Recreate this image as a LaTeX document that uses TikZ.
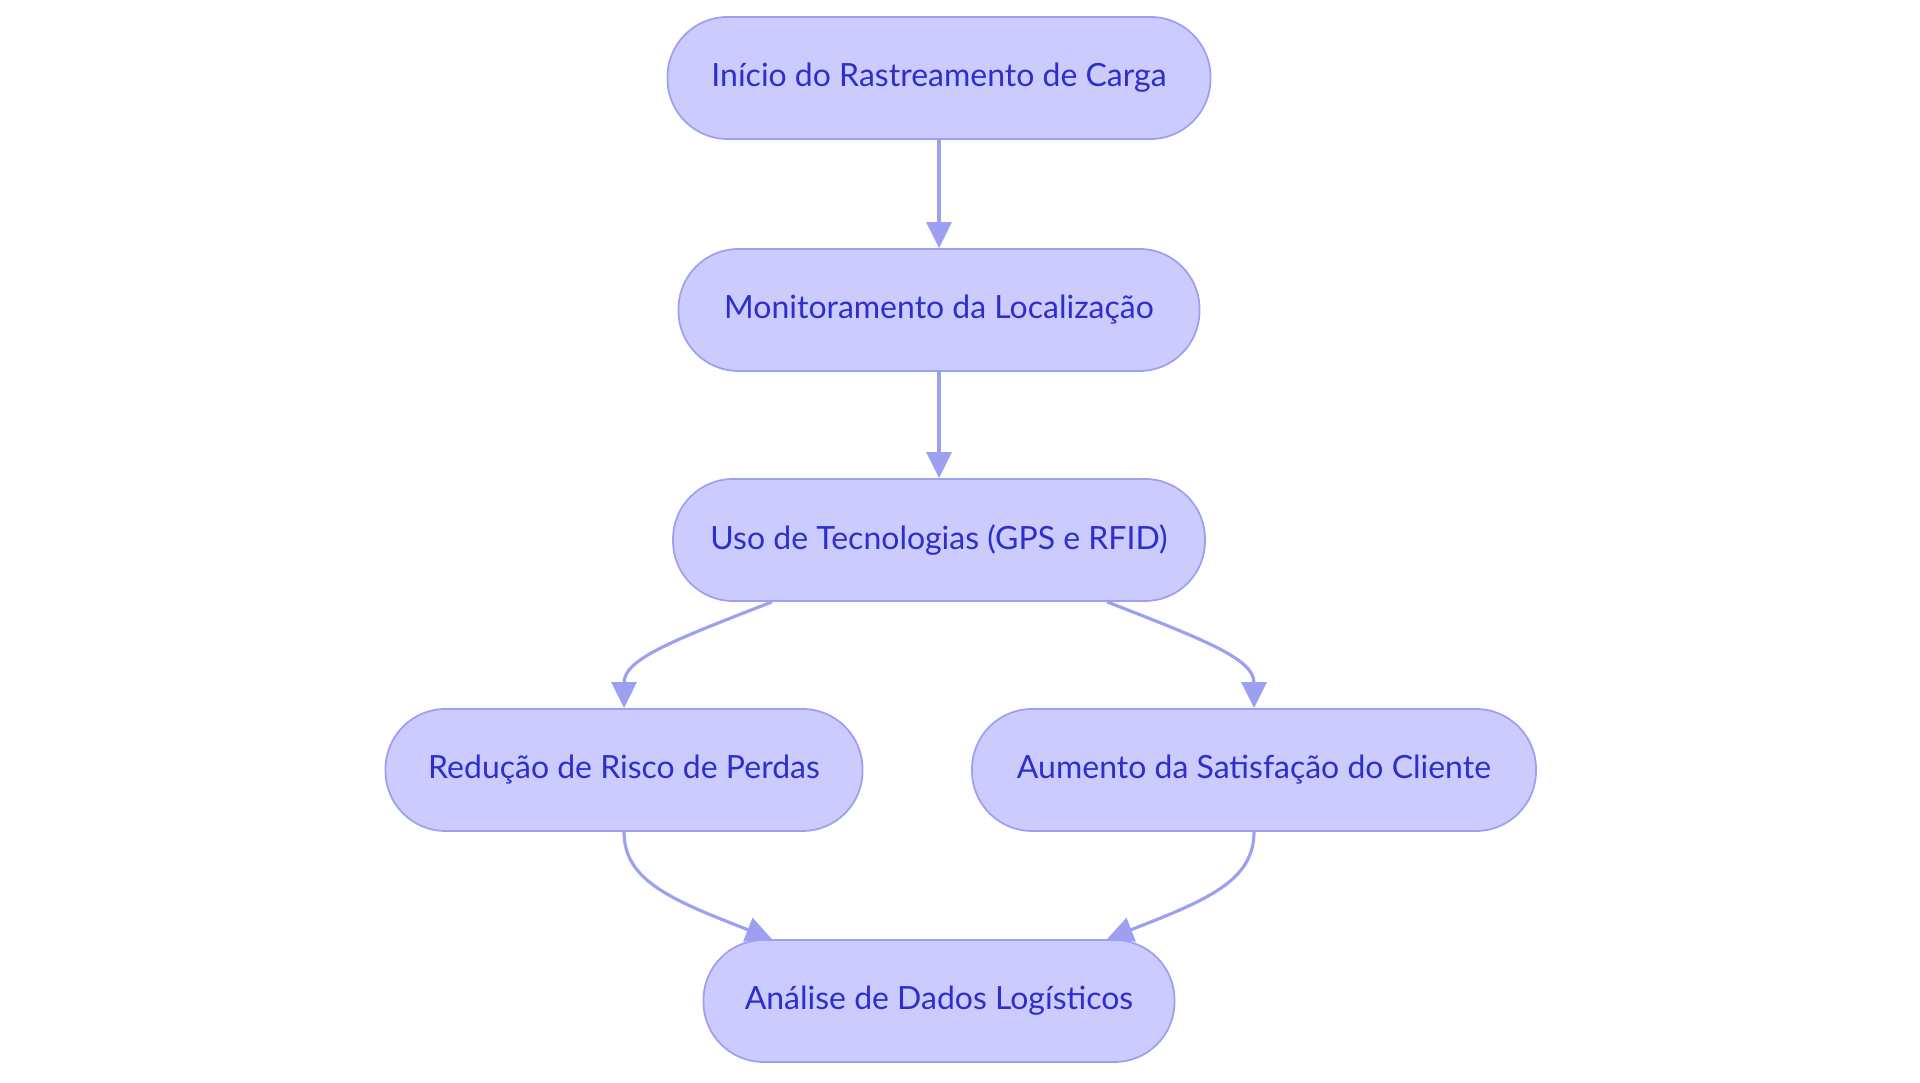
\documentclass[tikz,border=0pt]{standalone}
\usepackage{fontspec}
\setmainfont{Lato}
\usepackage{xcolor}
\usepackage{tikz}
\usetikzlibrary{arrows.meta}

\definecolor{boxfill}{HTML}{CBCBFD}
\definecolor{boxline}{HTML}{9DA0F0}
\definecolor{boxtext}{HTML}{2E2ECC}

\tikzset{
  stepbox/.style={draw=boxline, line width=0.5pt, fill=boxfill, text=boxtext,
    rounded corners=0.6cm, minimum height=1.22cm, inner xsep=0pt,
    font=\fontsize{9.1}{11}\selectfont},
  flow/.style={draw=boxline, line width=0.9pt,
    -{Triangle[length=0.26cm,width=0.25cm]}}
}

\begin{document}
\begin{tikzpicture}
    \useasboundingbox (0,0) rectangle (19.2,10.83);

    \node[stepbox, minimum width=5.43cm] (inicio) at (9.39,10.05) {Início do Rastreamento de Carga};
    \node[stepbox, minimum width=5.21cm] (monit) at (9.39,7.73) {Monitoramento da Localização};
    \node[stepbox, minimum width=5.32cm] (tecno) at (9.39,5.43) {Uso de Tecnologias (GPS e RFID)};
    \node[stepbox, minimum width=4.77cm] (reducao) at (6.24,3.13) {Redução de Risco de Perdas};
    \node[stepbox, minimum width=5.64cm] (aumento) at (12.54,3.13) {Aumento da Satisfação do Cliente};
    \node[stepbox, minimum width=4.71cm] (analise) at (9.39,0.82) {Análise de Dados Logísticos};

    \draw[flow] (inicio) -- (monit);
    \draw[flow] (monit) -- (tecno);
    \draw[flow] ([xshift=-1.67cm]tecno.south) .. controls +(-1.0,-0.39) and +(0,0.49) .. (reducao.north);
    \draw[flow] ([xshift=1.68cm]tecno.south) .. controls +(1.0,-0.39) and +(0,0.49) .. (aumento.north);
    \draw[flow] (reducao.south) .. controls +(0,-0.49) and +(-1.0,0.39) .. ([xshift=-1.67cm]analise.north);
    \draw[flow] (aumento.south) .. controls +(0,-0.49) and +(1.0,0.39) .. ([xshift=1.68cm]analise.north);
\end{tikzpicture}
\end{document}
